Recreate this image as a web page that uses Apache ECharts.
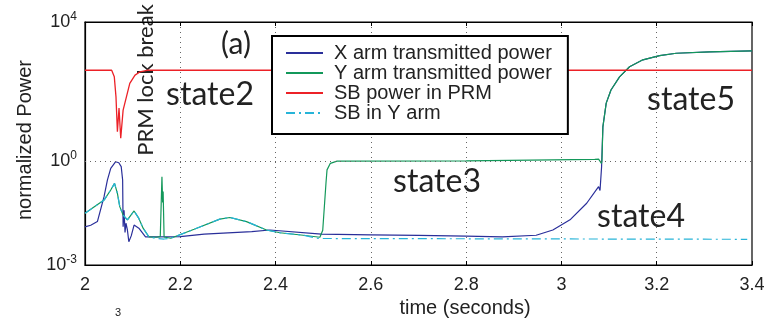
<!DOCTYPE html>
<html>
<head>
<meta charset="utf-8">
<script src="https://cdn.jsdelivr.net/npm/echarts@6/dist/echarts.min.js"></script>
<style>
  html, body { margin: 0; padding: 0; background: #fff; }
  #chart { width: 776px; height: 320px; }
</style>
</head>
<body>
<div id="chart"></div>
<script>
// X arm transmitted power
const xArmT = [2.000, 2.012, 2.026, 2.040, 2.047, 2.054, 2.064, 2.071, 2.0745, 2.076, 2.079, 2.080, 2.082, 2.084, 2.086, 2.089, 2.092, 2.097, 2.103, 2.113, 2.127, 2.143, 2.200, 2.250, 2.350, 2.388, 2.496, 2.600, 2.700, 2.800, 2.876, 2.947, 2.982, 3.018, 3.053, 3.078, 3.080, 3.081, 3.0843, 3.087, 3.094, 3.104, 3.122, 3.143, 3.171, 3.206, 3.241, 3.311, 3.400]
const xArmP = [0.0126, 0.014, 0.0178, 0.093, 0.28, 0.61, 0.94, 0.88, 0.8, 0.68, 0.28, 0.0126, 0.038, 0.0086, 0.016, 0.0102, 0.0047, 0.0069, 0.0141, 0.0115, 0.0065, 0.0065, 0.0066, 0.0078, 0.0091, 0.0102, 0.0078, 0.0074, 0.0071, 0.0068, 0.0065, 0.0072, 0.0102, 0.020, 0.060, 0.18, 0.20, 0.14, 0.68, 9.5, 46, 110, 263, 513, 813, 1072, 1259, 1380, 1480]

// Y arm transmitted power
const yArmT = [2.000, 2.040, 2.054, 2.062, 2.068, 2.073, 2.080, 2.089, 2.103, 2.113, 2.122, 2.134, 2.150, 2.158, 2.1615, 2.163, 2.164, 2.166, 2.180, 2.229, 2.283, 2.304, 2.339, 2.381, 2.409, 2.458, 2.493, 2.499, 2.506, 2.508, 2.515, 2.529, 2.800, 3.070, 3.078, 3.084, 3.085, 3.087, 3.094, 3.104, 3.122, 3.143, 3.171, 3.206, 3.241, 3.311, 3.400]
const yArmP = [0.031, 0.074, 0.145, 0.224, 0.116, 0.048, 0.0275, 0.020, 0.036, 0.022, 0.0115, 0.0065, 0.0063, 0.0066, 0.35, 0.063, 0.13, 0.0064, 0.0059, 0.0107, 0.021, 0.0234, 0.0178, 0.0102, 0.0085, 0.0072, 0.0063, 0.010, 0.25, 0.55, 0.85, 0.98, 1.0, 1.1, 1.12, 0.85, 1.0, 9.5, 46, 110, 263, 513, 813, 1072, 1259, 1380, 1480]

// SB power in PRM
const sbPrmT = [2.000, 2.056, 2.0615, 2.065, 2.068, 2.0714, 2.075, 2.080, 2.094, 2.105, 2.115, 2.130, 3.400]
const sbPrmP = [407, 407, 263, 71, 6.9, 33, 4.5, 29, 170, 295, 363, 407, 407]

// SB in Y arm
const sbYT = [2.000, 2.040, 2.054, 2.062, 2.068, 2.073, 2.080, 2.089, 2.103, 2.113, 2.122, 2.134, 2.150, 2.166, 2.180, 2.229, 2.283, 2.304, 2.339, 2.381, 2.409, 2.458, 2.490, 3.390]
const sbYP = [0.031, 0.074, 0.145, 0.224, 0.116, 0.048, 0.0275, 0.020, 0.036, 0.022, 0.0115, 0.0065, 0.0058, 0.0056, 0.0059, 0.0107, 0.021, 0.0234, 0.0178, 0.0102, 0.0085, 0.0072, 0.0058, 0.0055]

const xTicks = [2, 2.2, 2.4, 2.6, 2.8, 3, 3.2, 3.4]
const yTickExp = [-3, 0, 4]

const pairs = (t, p) => t.map((v, i) => [v, p[i]])

const chart = echarts.init(document.getElementById('chart'))

const lineSeries = (name, data, color, extra) => Object.assign({
  name,
  type: 'line',
  data,
  showSymbol: false,
  symbol: 'none',
  animation: false,
  lineStyle: { color, width: 1.2 },
  itemStyle: { color },
}, extra || {})

chart.setOption({
  animation: false,
  textStyle: { fontFamily: 'Liberation Sans, Arial, sans-serif' },
  grid: {
    left: 85, right: 24, top: 22, bottom: 55,
    outerBoundsMode: 'none',
    show: true, borderColor: '#000', borderWidth: 1.2,
  },
  legend: {
    orient: 'vertical',
    left: 272,
    top: 36,
    padding: [7, 16, 11, 13],
    itemWidth: 37,
    itemHeight: 14,
    itemGap: 0,
    backgroundColor: '#fff',
    borderColor: '#000',
    borderWidth: 2,
    itemStyle: { opacity: 0 },
    textStyle: { fontSize: 20, color: '#222', lineHeight: 20, padding: [0, 0, 0, 6] },
    data: ['X arm transmitted power', 'Y arm transmitted power', 'SB power in PRM', 'SB in Y arm'],
  },
  xAxis: [
    {
      type: 'value',
      min: 2,
      max: 3.4,
      interval: 0.2,
      name: 'time (seconds)',
      nameLocation: 'middle',
      nameGap: 26,
      nameTextStyle: { fontSize: 20, color: '#222', padding: [0, 0, 0, 93] },
      axisLine: { lineStyle: { color: '#000', width: 1.2 } },
      axisTick: { inside: true, length: 4, lineStyle: { color: '#000' } },
      axisLabel: {
        fontSize: 18,
        color: '#222',
        margin: 11,
        formatter: (v) => {
          const hit = xTicks.find((t) => Math.abs(t - v) < 1e-6)
          return hit === undefined ? '' : String(hit)
        },
      },
      splitLine: { show: true, lineStyle: { color: '#666', type: [1, 4], width: 1 } },
    },
    {
      type: 'value',
      position: 'top',
      min: 2,
      max: 3.4,
      interval: 0.2,
      axisLine: { lineStyle: { color: '#000', width: 1.2 } },
      axisTick: { inside: true, length: 4, lineStyle: { color: '#000' } },
      axisLabel: { show: false },
      splitLine: { show: false },
    },
  ],
  yAxis: {
    type: 'log',
    logBase: 10,
    min: 0.001,
    max: 10000,
    name: 'normalized Power',
    nameLocation: 'middle',
    nameGap: 43,
    nameTextStyle: { fontSize: 20, color: '#222', padding: [0, 0, 0, 7] },
    axisLine: { lineStyle: { color: '#000', width: 1.2 } },
    axisTick: { show: false },
    splitLine: { show: false },
    axisLabel: {
      margin: 8,
      formatter: (v) => {
        const e = Math.round(Math.log10(v))
        return yTickExp.includes(e) ? '{b|10}{s|' + e + '}' : ''
      },
      rich: {
        b: { fontSize: 18, color: '#222', fontFamily: 'Liberation Sans' },
        s: { fontSize: 12, color: '#222', fontFamily: 'Liberation Sans', verticalAlign: 'top', padding: [0, 0, 10, 0] },
      },
    },
  },
  series: [
    lineSeries('X arm transmitted power', pairs(xArmT, xArmP), '#2a2f9a'),
    lineSeries('Y arm transmitted power', pairs(yArmT, yArmP), '#13985a'),
    lineSeries('SB power in PRM', pairs(sbPrmT, sbPrmP), '#ec2127', {
      lineStyle: { color: '#ec2127', width: 1.3 },
      markLine: {
        silent: true,
        symbol: 'none',
        label: { show: false },
        lineStyle: { color: '#666', type: [1, 4], width: 1 },
        data: [{ yAxis: 1 }],
      },
    }),
    lineSeries('SB in Y arm', pairs(sbYT, sbYP), '#27b4d8', {
      lineStyle: { color: '#27b4d8', width: 1.2, type: [9, 4, 2, 4] },
    }),
  ],
  graphic: [
    { type: 'text', x: 236, y: 44, style: { text: '(a)', font: '30px Lato', fill: '#222', textAlign: 'center', textVerticalAlign: 'middle' } },
    { type: 'text', x: 146, y: 80, rotation: Math.PI / 2, style: { text: 'PRM lock break', font: '22px Lato', fill: '#222', textAlign: 'center', textVerticalAlign: 'middle' } },
    { type: 'text', x: 210, y: 95, style: { text: 'state2', font: '32px Lato', fill: '#222', textAlign: 'center', textVerticalAlign: 'middle' } },
    { type: 'text', x: 437, y: 182, style: { text: 'state3', font: '32px Lato', fill: '#222', textAlign: 'center', textVerticalAlign: 'middle' } },
    { type: 'text', x: 641, y: 217, style: { text: 'state4', font: '32px Lato', fill: '#222', textAlign: 'center', textVerticalAlign: 'middle' } },
    { type: 'text', x: 691, y: 100, style: { text: 'state5', font: '32px Lato', fill: '#222', textAlign: 'center', textVerticalAlign: 'middle' } },
    { type: 'text', x: 118, y: 313, style: { text: '3', font: '11px Liberation Sans', fill: '#222', textAlign: 'center', textVerticalAlign: 'middle' } },
  ],
})
</script>
</body>
</html>
